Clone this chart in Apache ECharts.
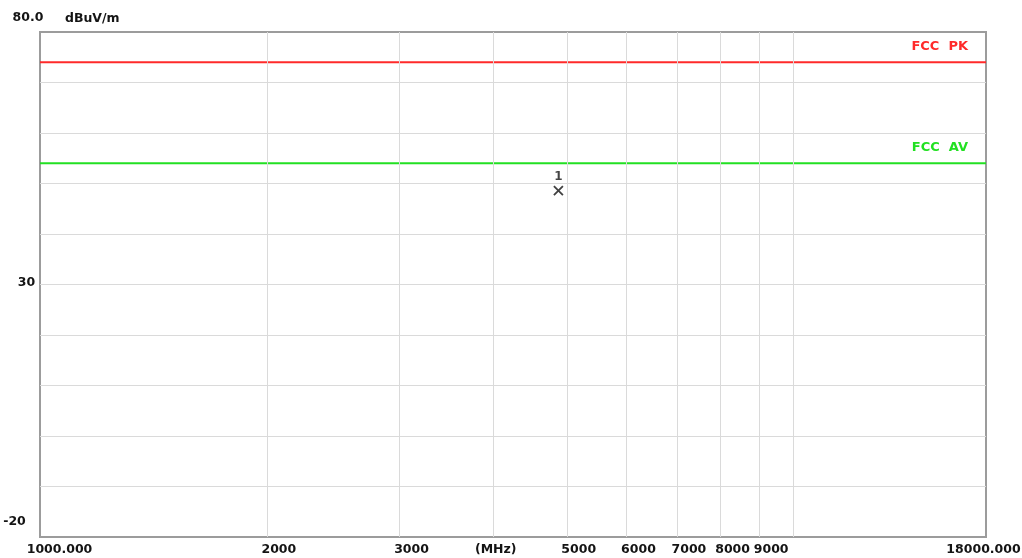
<!DOCTYPE html>
<html>
<head>
<meta charset="utf-8">
<script src="https://cdn.jsdelivr.net/npm/echarts@6/dist/echarts.min.js"></script>
<style>
  html, body { margin: 0; padding: 0; background: #ffffff; }
  #chart { width: 1022px; height: 558px; }
</style>
</head>
<body>
<div id="chart"></div>
<script>
// Sweep span (MHz)
const freqRange = [1000, 18000];
// Frequencies of the vertical grid / tick labels and their captions
const xTickFreqs = [1000, 2000, 3000, 4000, 5000, 6000, 7000, 8000, 9000, 10000, 18000];
const xTickLabels = ['1000.000', '2000', '3000', '(MHz)', '5000', '6000', '7000', '8000', '9000', '', '18000.000'];
// Level axis (dBuV/m)
const levelRange = [-20, 80];
const levelStep = 10;
const yLabelValues = [80, 30, -20];
const yLabelTexts = ['80.0', '30', '-20'];
const levelUnit = 'dBuV/m';
// Limit lines across the span
const pkLimit = [74, 74];
const avLimit = [54, 54];
// Marked emission
const markerFreq = [4874];
const markerLevel = [48.6];
const markerNames = ['1'];

const FONT = 'DejaVu Sans';
const TEXT = '#141414';
const GRID = '#dadada';
const RED = '#ff2a2a';
const GREEN = '#22e022';

const chart = echarts.init(document.getElementById('chart'), null, { renderer: 'canvas' });

// offsets that place each frequency caption relative to its grid line
function xLabelPadding(i) {
  if (i === 0) return [0, 0, 0, 39];
  if (i === xTickFreqs.length - 1) return [0, 5, 0, 0];
  if (xTickLabels[i] === '(MHz)') return [0, 0, 0, 4];
  return [0, 0, 0, 24];
}

const yRich = {
  top: { padding: [0, 0, 28, 16] },
  mid: { padding: [0, 0, 4, 13] },
  bot: { padding: [0, 11, 30, 0] }
};
const yRichKeys = ['top', 'mid', 'bot'];

function limitSeries(name, values, color) {
  return {
    type: 'line',
    name: name,
    z: 3,
    clip: false,
    silent: true,
    animation: false,
    symbol: 'circle',
    symbolSize: 0,
    showSymbol: true,
    lineStyle: { color: color, width: 2 },
    itemStyle: { color: color },
    emphasis: { disabled: true },
    data: freqRange.map((f, i) => {
      const item = { value: [f, values[i]] };
      if (i === freqRange.length - 1) {
        item.label = {
          show: true,
          formatter: '{a}',
          position: 'left',
          distance: 18,
          offset: [0, -16],
          color: color,
          fontFamily: FONT,
          fontWeight: 'bold',
          fontSize: 13
        };
      }
      return item;
    })
  };
}

const option = {
  backgroundColor: '#ffffff',
  animation: false,
  grid: {
    left: 40, right: 36, top: 32, bottom: 21,
    show: true,
    borderColor: '#9c9c9c',
    borderWidth: 2,
    backgroundColor: 'transparent',
    containLabel: false,
    outerBoundsMode: 'none'
  },
  xAxis: {
    type: 'log',
    logBase: 10,
    min: freqRange[0],
    max: freqRange[1],
    axisLine: { show: false },
    axisTick: { show: false },
    axisLabel: { show: false },
    splitLine: { show: false }
  },
  yAxis: {
    type: 'value',
    min: levelRange[0],
    max: levelRange[1],
    interval: levelStep,
    name: levelUnit,
    nameLocation: 'end',
    nameGap: 7,
    nameMoveOverlap: false,
    nameTextStyle: {
      align: 'left',
      verticalAlign: 'bottom',
      padding: [0, 0, 0, 25],
      color: TEXT,
      fontFamily: FONT,
      fontWeight: 'bold',
      fontSize: 12.5
    },
    axisLine: { show: false },
    axisTick: { show: false },
    splitLine: {
      show: true,
      showMinLine: false,
      showMaxLine: false,
      lineStyle: { color: GRID, width: 1 }
    },
    axisLabel: {
      margin: 20,
      align: 'center',
      color: TEXT,
      fontFamily: FONT,
      fontWeight: 'bold',
      fontSize: 12.5,
      formatter: function (v) {
        const i = yLabelValues.indexOf(v);
        return i < 0 ? '' : '{' + yRichKeys[i] + '|' + yLabelTexts[i] + '}';
      },
      rich: yRich
    }
  },
  series: [
    {
      // vertical grid lines with their frequency captions
      type: 'line',
      z: 1,
      silent: true,
      data: [],
      markLine: {
        silent: true,
        symbol: 'none',
        animation: false,
        emphasis: { disabled: true },
        lineStyle: { color: GRID, width: 1, type: 'solid' },
        label: {
          show: true,
          position: 'start',
          distance: 6,
          formatter: '{b}',
          color: TEXT,
          fontFamily: FONT,
          fontWeight: 'bold',
          fontSize: 12.5
        },
        data: xTickFreqs.map((f, i) => {
          const edge = i === 0 || i === xTickFreqs.length - 1;
          return {
            xAxis: f,
            name: xTickLabels[i],
            lineStyle: edge ? { color: 'rgba(0,0,0,0)' } : undefined,
            label: { padding: xLabelPadding(i) }
          };
        })
      }
    },
    limitSeries('FCC  PK', pkLimit, RED),
    limitSeries('FCC  AV', avLimit, GREEN),
    {
      type: 'scatter',
      z: 4,
      silent: true,
      symbol: 'path://M0,0L10,10M10,0L0,10',
      symbolSize: 9,
      itemStyle: { color: 'transparent', borderColor: '#111111', borderWidth: 1.8 },
      emphasis: { disabled: true },
      label: {
        show: true,
        position: 'top',
        distance: 2,
        formatter: '{b}',
        color: TEXT,
        fontFamily: FONT,
        fontWeight: 'bold',
        fontSize: 12
      },
      data: markerFreq.map((f, i) => ({ name: markerNames[i], value: [f, markerLevel[i]] }))
    }
  ]
};

chart.setOption(option);
</script>
</body>
</html>
